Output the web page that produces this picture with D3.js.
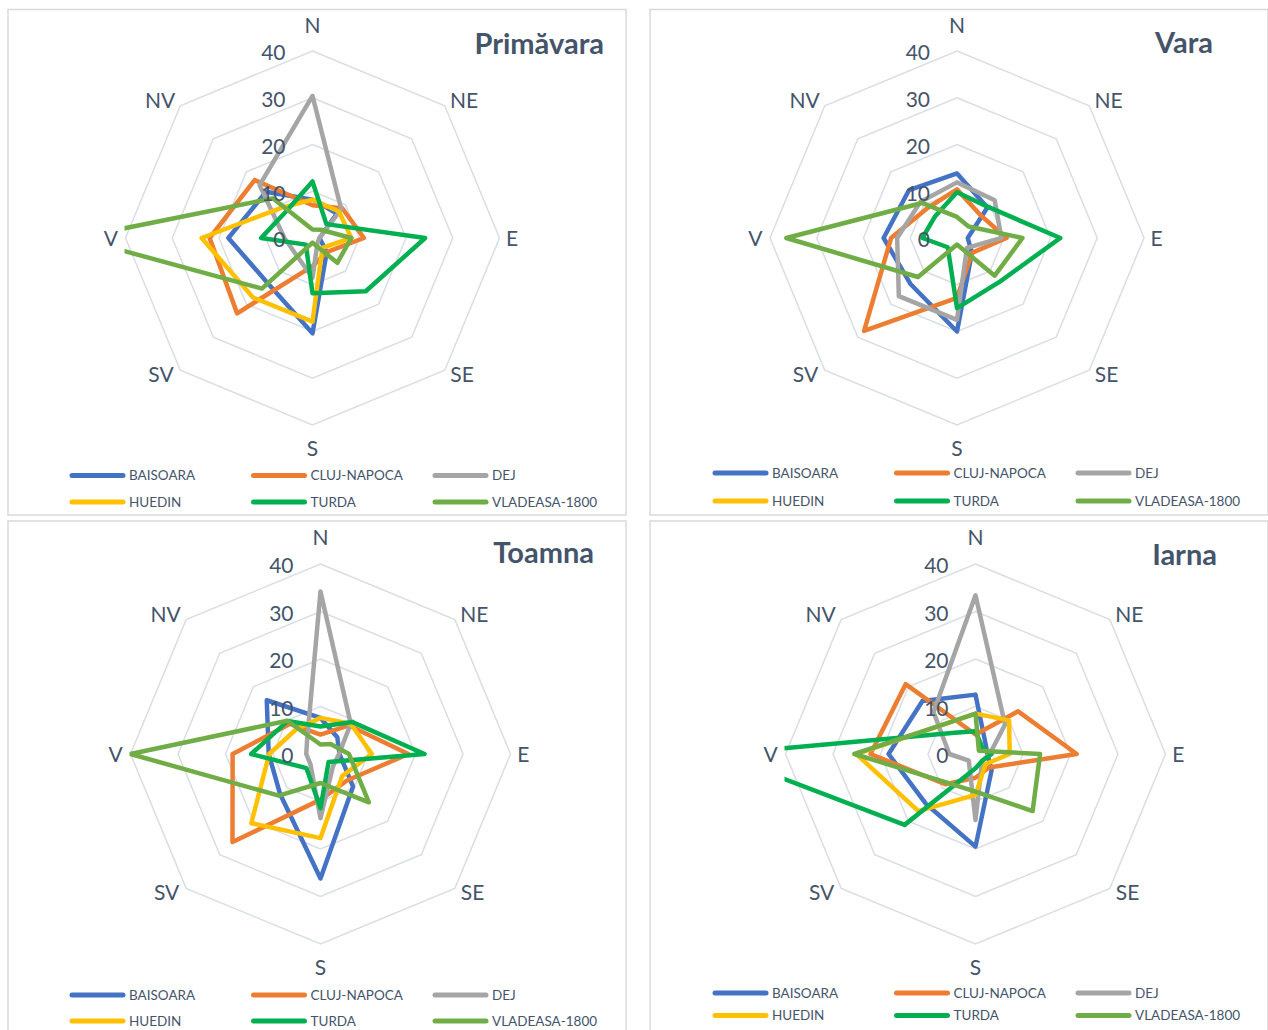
<!DOCTYPE html>
<html><head><meta charset="utf-8">
<script src="https://cdn.jsdelivr.net/npm/d3@7"></script>
<style>
html,body{margin:0;padding:0;background:#fff;}
svg{display:block;}
text{font-family:Lato,"Open Sans",sans-serif;}
</style></head>
<body>
<svg id="chart" width="1268" height="1030"></svg>
<script>
// ---------- data ----------
const directions = ["N","NE","E","SE","S","SV","V","NV"];
const stations = ["BAISOARA","CLUJ-NAPOCA","DEJ","HUEDIN","TURDA","VLADEASA-1800"];
const stationColors = ["#4472C4","#ED7D31","#A5A5A5","#FFC000","#00B050","#70AD47"];
const radialTicks = [0,10,20,30,40];
const seasons = ["Primăvara","Vara","Toamna","Iarna"];

// values per station, directions in order N, NE, E, SE, S, SV, V, NV
const primavara = [
  [8.2, 7.4, 1.5, 4.3, 20.4, 13.6, 18.0, 14.0],
  [7.0, 9.0, 11.0, 4.3, 6.0, 22.8, 22.0, 17.5],
  [30.4, 8.7, 1.5, 1.5, 8.5, 5.0, 6.0, 16.0],
  [8.2, 8.0, 8.3, 3.0, 17.9, 18.0, 23.7, 9.2],
  [12.1, 4.2, 24.1, 16.1, 11.8, 2.0, 11.0, 8.0],
  [1.8, 2.5, 8.3, 7.5, 1.0, 15.3, 50.5, 12.0]
];
const vara = [
  [13.8, 9.2, 2.3, 4.5, 20.0, 14.0, 15.7, 14.5],
  [10.4, 7.0, 10.6, 4.5, 12.8, 28.1, 14.1, 9.0],
  [11.9, 11.4, 9.5, 3.0, 17.5, 17.6, 12.8, 11.0],
  [null, null, null, null, null, null, null, null],
  [9.8, 9.4, 22.1, 13.1, 15.0, 2.8, 7.4, 6.6],
  [4.5, 3.5, 14.0, 11.4, 1.4, 11.8, 36.5, 10.6]
];
const toamna = [
  [7.6, 5.0, 4.0, 9.7, 26.2, 12.0, 10.9, 16.0],
  [4.1, 8.5, 18.5, 7.9, 9.6, 26.2, 18.5, 9.0],
  [34.2, 9.0, 3.9, 3.7, 13.5, 3.0, 3.0, 4.0],
  [7.6, 9.0, 10.8, 6.5, 17.7, 20.6, 10.8, 7.3],
  [5.8, 9.5, 21.9, 2.4, 11.4, 4.2, 14.6, 9.8],
  [2.0, 3.0, 6.0, 14.4, 6.1, 12.4, 40.0, 9.9]
];
const iarna = [
  [12.5, 3.0, 2.5, 4.8, 19.5, 14.8, 18.3, 15.8],
  [4.1, 12.7, 21.3, 4.0, 5.0, 9.0, 22.1, 20.8],
  [33.4, 8.8, 3.0, 2.0, 13.9, 2.0, 5.5, 12.5],
  [8.5, 10.0, 7.2, 3.0, 8.6, 17.0, 25.1, 9.0],
  [4.8, 2.0, 3.4, 2.0, 3.0, 21.1, 54.0, 6.3],
  [8.5, 1.0, 13.6, 17.0, 7.9, 8.5, 25.5, 9.0]
];
const seasonData = [primavara, vara, toamna, iarna];

// ---------- layout ----------
const panels = [
  {x:8,   y:9.5, w:618, h:505.5, cx:312.5, cy:238,   R:187, titleX:604,  titleY:54,  legX:70,  legY:[475.5,502]},
  {x:650, y:9.5, w:618, h:505.5, cx:957,   cy:238,   R:187, titleX:1213, titleY:53,  legX:713, legY:[473,501]},
  {x:8,   y:521, w:618, h:520,   cx:320.5, cy:754,   R:190, titleX:594,  titleY:563, legX:70,  legY:[995,1021]},
  {x:650, y:521, w:618, h:520,   cx:975.5, cy:754,   R:190, titleX:1217, titleY:565, legX:713, legY:[993,1015.5]}
];
// label placement factors (relative to ring radius) per direction
const labelPos = [[0,-1.139],[0.81,-0.735],[1.067,0],[0.80,0.73],[0,1.124],[-0.81,0.73],[-1.078,0],[-0.815,-0.735]];

const textColor = "#44546A";
const gridColor = "#D9DDE5";
const svg = d3.select("#chart");
const defs = svg.append("defs");
const angle = d3.scaleLinear().domain([0, directions.length]).range([0, 2*Math.PI]);

panels.forEach((p, pi) => {
  const g = svg.append("g");
  g.append("rect").attr("x",p.x).attr("y",p.y).attr("width",p.w).attr("height",p.h)
    .attr("fill","#fff").attr("stroke","#D9D9D9").attr("stroke-width",1.5);

  const r = d3.scaleLinear().domain([0,40]).range([0,p.R]);
  const cg = g.append("g").attr("transform",`translate(${p.cx},${p.cy})`);

  // grid rings (octagons)
  radialTicks.filter(t=>t>0).forEach(t=>{
    const ring = d3.lineRadial().angle((d,i)=>angle(i)).radius(()=>r(t)).curve(d3.curveLinearClosed);
    cg.append("path").attr("d", ring(directions)).attr("fill","none")
      .attr("stroke",gridColor).attr("stroke-width",1.5);
  });

  // clip
  const clipId = "clip"+pi;
  defs.append("clipPath").attr("id",clipId).append("rect")
    .attr("x",-p.R-1).attr("y",-p.R-12).attr("width",2*p.R+2).attr("height",2*p.R+24);

  // series
  const line = d3.lineRadial().angle((d,i)=>angle(i)).radius(d=>r(d)).curve(d3.curveLinearClosed);
  const sg = cg.append("g").attr("clip-path",`url(#${clipId})`);
  seasonData[pi].forEach((vals, si)=>{
    if (vals.some(v=>v==null)) return;
    sg.append("path").attr("d", line(vals)).attr("fill","none")
      .attr("stroke",stationColors[si]).attr("stroke-width",4.5)
      .attr("stroke-linejoin","round");
  });

  // tick labels
  radialTicks.forEach(t=>{
    cg.append("text").attr("x",-27).attr("y",-r(t)).attr("dy","0.45em")
      .attr("text-anchor","end").attr("fill",textColor).attr("font-size",21).text(t);
  });

  // direction labels
  directions.forEach((d,i)=>{
    const [fx, fy] = labelPos[i];
    cg.append("text").attr("x", fx*p.R).attr("y", fy*p.R).attr("dy","0.36em")
      .attr("text-anchor","middle").attr("fill",textColor).attr("font-size",21).text(d);
  });

  // title
  g.append("text").attr("x",p.titleX).attr("y",p.titleY).attr("text-anchor","end")
    .attr("font-weight","bold").attr("font-size",29).attr("fill",textColor).text(seasons[pi]);

  // legend
  stations.forEach((s,si)=>{
    const col = si%3, row = Math.floor(si/3);
    const lx = p.legX + col*181.5, ly = p.legY[row];
    g.append("line").attr("x1",lx+2).attr("x2",lx+53).attr("y1",ly).attr("y2",ly)
      .attr("stroke",stationColors[si]).attr("stroke-width",5).attr("stroke-linecap","round");
    g.append("text").attr("x",lx+59).attr("y",ly).attr("dy","0.35em")
      .attr("font-size",13.5).attr("fill",textColor).text(s);
  });
});
</script>
</body></html>
